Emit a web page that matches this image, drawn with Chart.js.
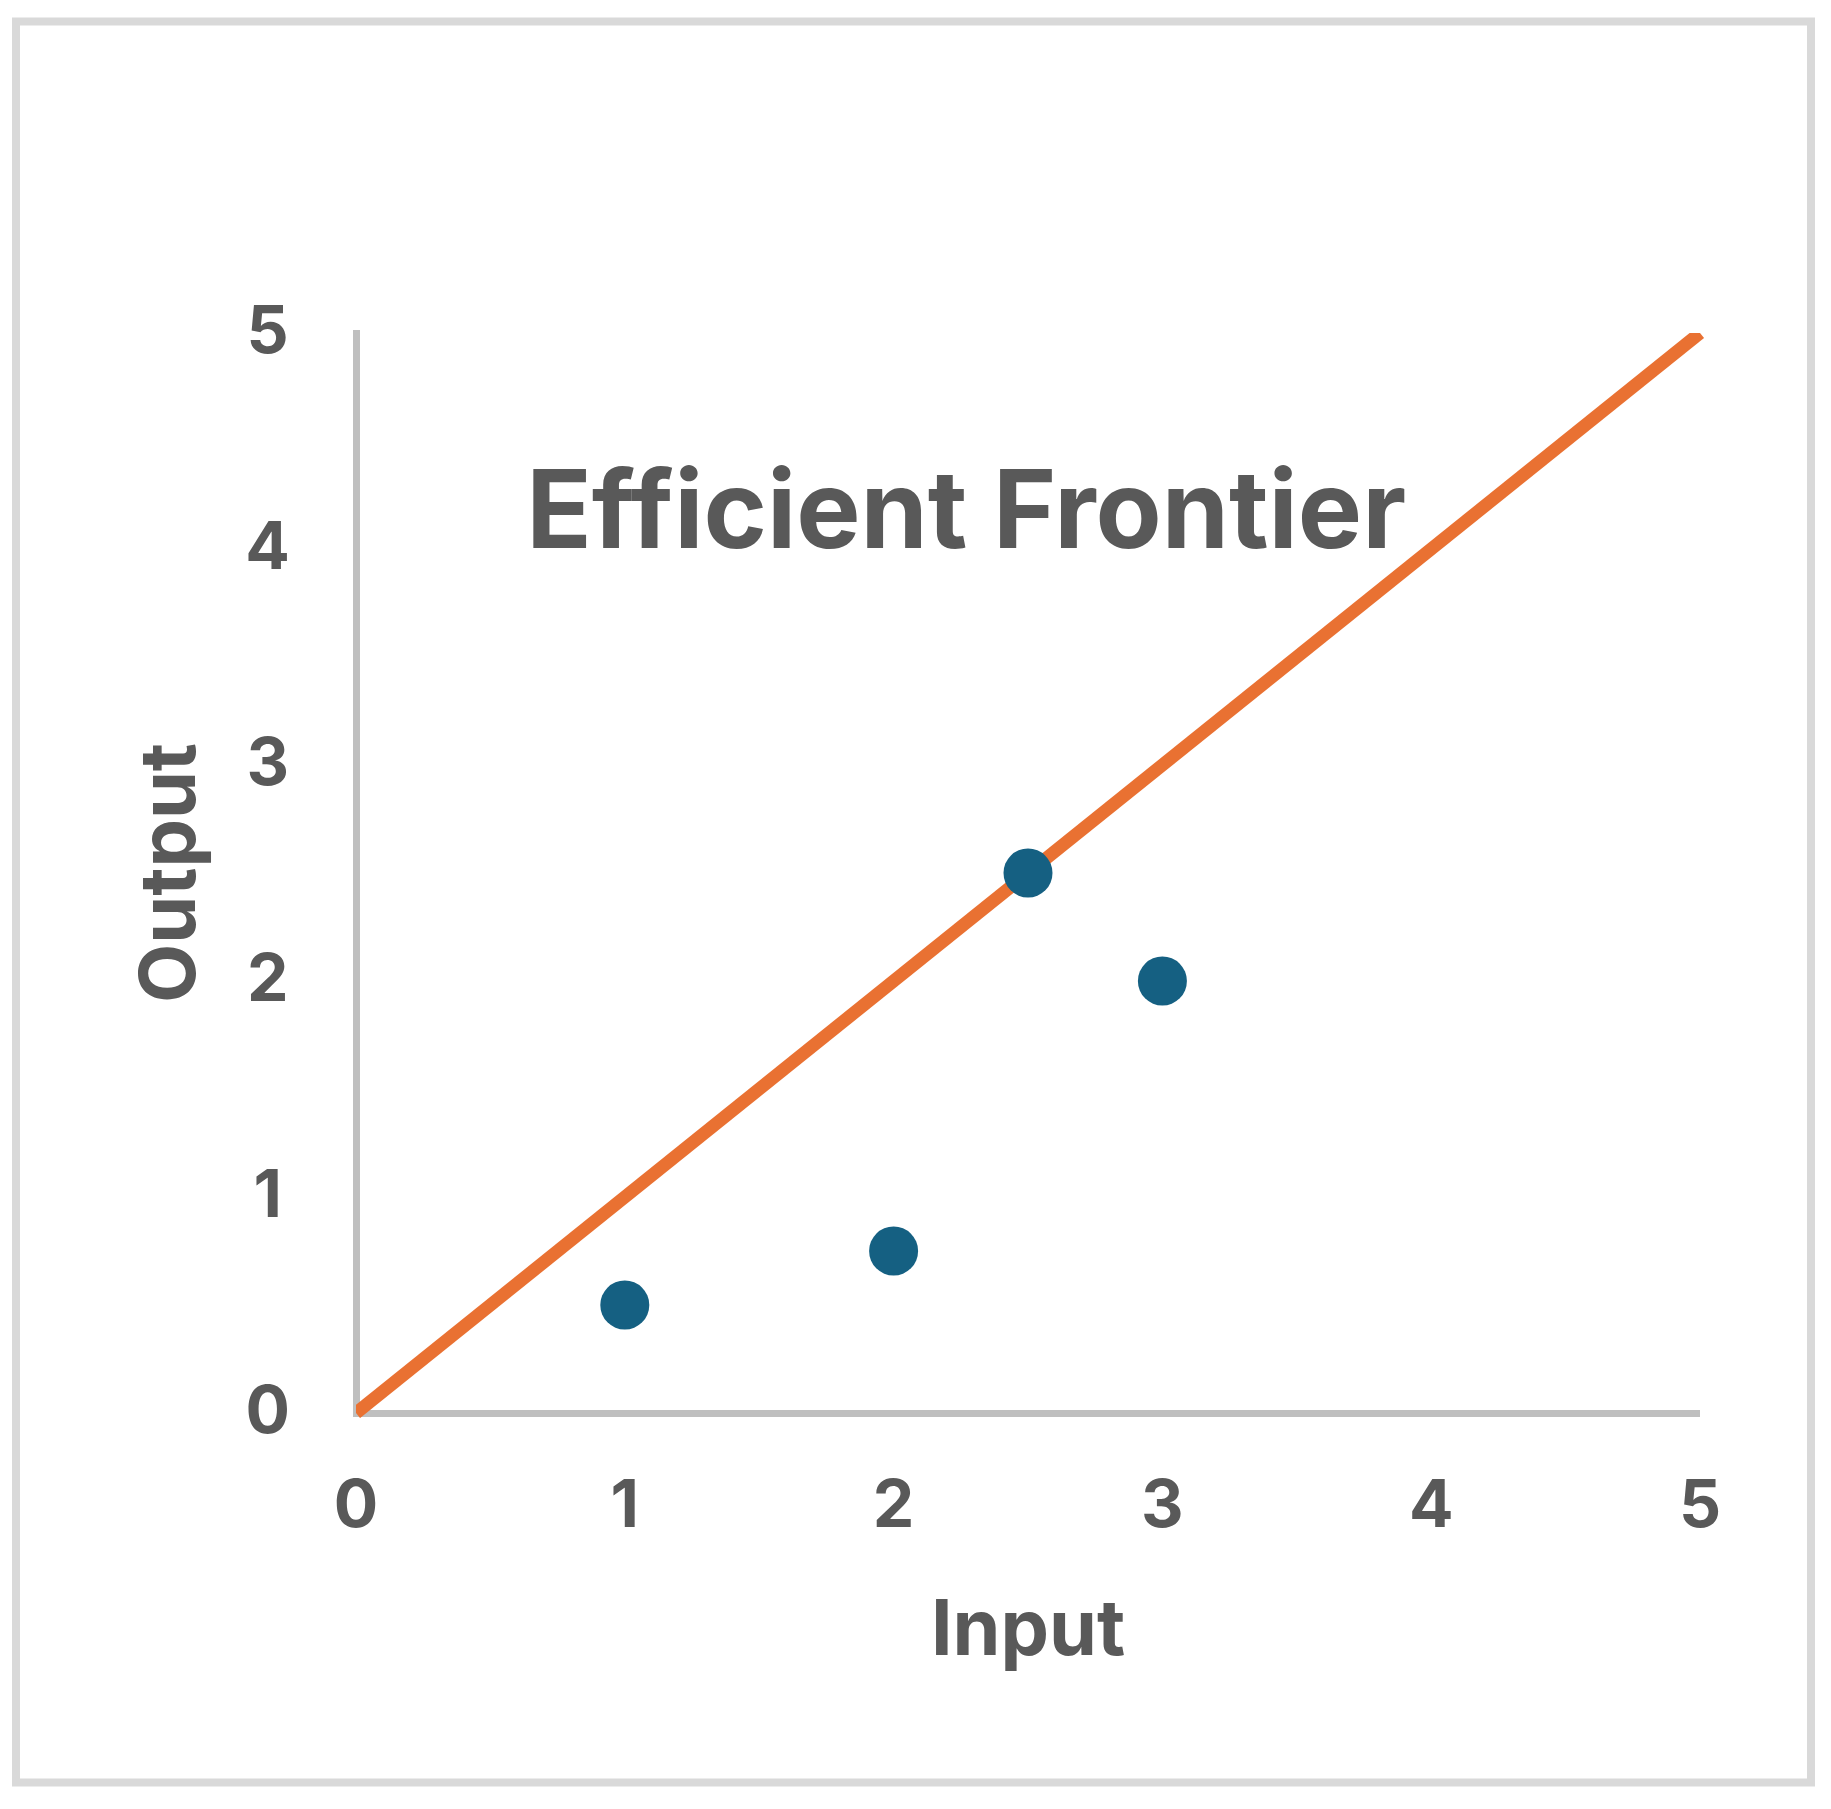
<!DOCTYPE html>
<html>
<head>
<meta charset="utf-8">
<title>Efficient Frontier</title>
<script src="https://cdn.jsdelivr.net/npm/chart.js@4.4.1/dist/chart.umd.min.js"></script>
<style>
    html, body { margin: 0; padding: 0; background: #ffffff; }
    canvas { display: block; }
</style>
</head>
<body>
<canvas id="frontierChart" width="1831" height="1809"></canvas>
<script>
// data
const inputValues = [1, 2, 2.5, 3];
const outputValues = [0.5, 0.75, 2.5, 2];
const frontierInput = [0, 5];
const frontierOutput = [0, 5];
const axisTicks = [0, 1, 2, 3, 4, 5];

const chartTitle = "Efficient Frontier";
const xTitle = "Input";
const yTitle = "Output";

const textColor = "#595959";
const axisColor = "#bfbfbf";
const fontFamily = "Inter, 'Liberation Sans', Arial, sans-serif";

// outer light grey frame + title inside the plot
const framePlugin = {
    id: "frame",
    beforeDraw(chart) {
        const ctx = chart.ctx;
        ctx.save();
        ctx.fillStyle = "#ffffff";
        ctx.fillRect(0, 0, chart.width, chart.height);
        ctx.strokeStyle = "#d9d9d9";
        ctx.lineWidth = 8;
        ctx.strokeRect(16, 21.5, chart.width - 36, chart.height - 48);
        ctx.restore();
    },
    afterDraw(chart) {
        const area = chart.chartArea;
        const ctx = chart.ctx;
        ctx.save();
        ctx.font = "bold 108px " + fontFamily;
        ctx.fillStyle = textColor;
        ctx.textAlign = "center";
        ctx.textBaseline = "alphabetic";
        ctx.fillText(chartTitle, area.left + (area.right - area.left) * 0.454, area.top + (area.bottom - area.top) * 0.199);
        ctx.restore();
    }
};

function makePoints(xs, ys) {
    return xs.map((x, i) => ({ x: x, y: ys[i] }));
}

const ctx = document.getElementById("frontierChart").getContext("2d");

new Chart(ctx, {
    type: "scatter",
    data: {
        datasets: [
            {
                label: "Firms",
                data: makePoints(inputValues, outputValues),
                backgroundColor: "#156082",
                borderWidth: 0,
                pointRadius: 24.5,
                pointHoverRadius: 24.5
            },
            {
                type: "line",
                label: "Frontier",
                data: makePoints(frontierInput, frontierOutput),
                borderColor: "#e97132",
                borderWidth: 13,
                pointRadius: 0,
                fill: false,
                clip: { left: 0, top: 0, right: 10, bottom: 5 }
            }
        ]
    },
    options: {
        responsive: false,
        animation: false,
        devicePixelRatio: 1,
        layout: {
            padding: { left: 0, top: 333, right: 131, bottom: 0 }
        },
        plugins: {
            legend: { display: false },
            tooltip: { enabled: false }
        },
        scales: {
            x: {
                type: "linear",
                min: 0,
                max: 5,
                afterBuildTicks: scale => { scale.ticks = axisTicks.map(v => ({ value: v })); },
                afterFit: scale => { scale.height = 396; },
                grid: { display: false, drawTicks: false, lineWidth: 0 },
                border: { display: true, color: axisColor, width: 7 },
                ticks: {
                    color: textColor,
                    padding: 55,
                    maxRotation: 0,
                    font: { family: fontFamily, size: 66, weight: "bold" }
                },
                title: {
                    display: true,
                    text: xTitle,
                    color: textColor,
                    padding: { top: 0, bottom: 131 },
                    font: { family: fontFamily, size: 77, weight: "bold" }
                }
            },
            y: {
                type: "linear",
                min: 0,
                max: 5,
                afterBuildTicks: scale => { scale.ticks = axisTicks.map(v => ({ value: v })); },
                afterFit: scale => { scale.width = 356; },
                grid: { display: false, drawTicks: false, lineWidth: 0 },
                border: { display: true, color: axisColor, width: 7 },
                ticks: {
                    color: textColor,
                    padding: 66,
                    crossAlign: "center",
                    font: { family: fontFamily, size: 66, weight: "bold" }
                },
                title: {
                    display: true,
                    text: yTitle,
                    color: textColor,
                    padding: { top: 126, bottom: 0 },
                    font: { family: fontFamily, size: 77, weight: "bold" }
                }
            }
        }
    },
    plugins: [framePlugin]
});
</script>
</body>
</html>
